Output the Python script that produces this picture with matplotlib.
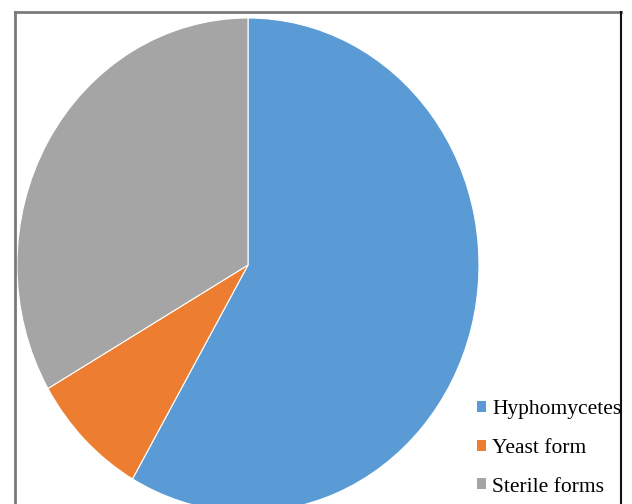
import matplotlib
matplotlib.use("Agg")
import matplotlib.pyplot as plt
from matplotlib.lines import Line2D
from matplotlib.patches import Patch

# Data.
labels = ["Hyphomycetes", "Yeast form", "Sterile forms"]
counts = [7, 1, 4]
colors = ["#5B9BD5", "#ED7D31", "#A5A5A5"]

W, H = 632, 504
fig = plt.figure(figsize=(W / 100, H / 100), dpi=100)
ax = fig.add_axes([0, 0, 1, 1])

# Pie centre and radii in pixels (the original is slightly stretched vertically).
cx, cy, rx, ry = 248, 265, 231, 247

ax.pie(counts, colors=colors, startangle=90, counterclock=False,
       wedgeprops=dict(linewidth=0.8, edgecolor="white"))
ax.set_aspect("auto")
ax.set_xlim(-cx / rx, (W - cx) / rx)
ax.set_ylim(-(H - cy) / ry, cy / ry)
ax.axis("off")

# Frame lines around the picture (no bottom edge).
fx0, fx1, fy0 = 15 / W, 620.5 / W, 1 - 12 / H
fig.add_artist(Line2D([fx0, fx0], [0, fy0], color="#7a7a7a", lw=2))
fig.add_artist(Line2D([fx0, fx1], [fy0, fy0], color="#7a7a7a", lw=2))
fig.add_artist(Line2D([fx1, fx1], [0, fy0], color="#111111", lw=1.5))

handles = [Patch(facecolor=c, edgecolor="none") for c in colors]
fig.legend(handles, labels, loc="upper left",
           bbox_to_anchor=(477 / W, 1 - 400 / H), frameon=False,
           prop=dict(family="Liberation Serif", size=15.5),
           handlelength=0.4, handleheight=0.4, handletextpad=0.3,
           labelspacing=0.92, borderpad=0, borderaxespad=0)

fig.savefig("out.png", dpi=100)
